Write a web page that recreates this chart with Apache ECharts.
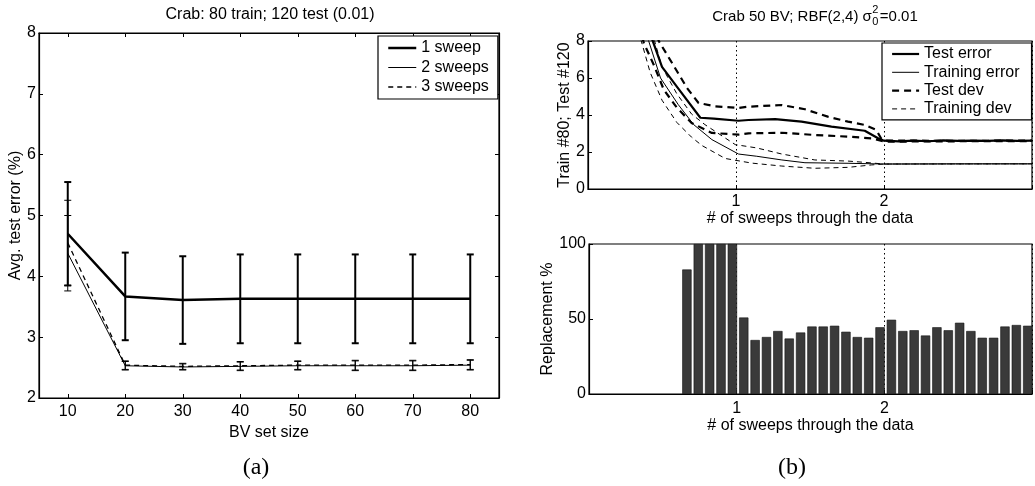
<!DOCTYPE html>
<html>
<head>
<meta charset="utf-8">
<script src="https://cdn.jsdelivr.net/npm/echarts@6/dist/echarts.min.js"></script>
<style>
html,body{margin:0;padding:0;background:#fff;}
#c{width:1035px;height:486px;}
</style>
</head>
<body>
<div id="c"></div>
<script>
// ---------- Panel (a) ----------
const bvSizes = [10, 20, 30, 40, 50, 60, 70, 80];
const sweep1Mean = [4.70, 3.67, 3.61, 3.63, 3.63, 3.63, 3.63, 3.63];
const sweep1Err  = [0.85, 0.72, 0.72, 0.73, 0.73, 0.73, 0.73, 0.73];
const sweep2Mean = [4.38, 2.53, 2.51, 2.52, 2.53, 2.53, 2.53, 2.54];
const sweep2Err  = [0.62, 0.07, 0.05, 0.07, 0.07, 0.08, 0.08, 0.08];
const sweep3Mean = [4.55, 2.54, 2.52, 2.53, 2.54, 2.54, 2.54, 2.55];
const sweep3Err  = [0.70, 0.07, 0.05, 0.07, 0.07, 0.08, 0.08, 0.08];
const legendA = ['1 sweep', '2 sweeps', '3 sweeps'];

// ---------- Panel (b) top ----------
const testErrX = [0.38,0.433,0.50,0.613,0.759,0.85,1.017,1.084,1.264,1.443,1.645,1.87,1.96,2.0,2.1,2.2,2.3,2.4,2.5,2.6,2.7,2.8,2.9,3.0];
const testErrY = [9.5,8.1,6.6,5.4,3.85,3.8,3.69,3.73,3.78,3.64,3.37,3.15,2.74,2.61,2.57,2.61,2.58,2.63,2.6,2.62,2.6,2.63,2.6,2.62];
const trainErrX = [0.36,0.41,0.49,0.61,0.714,0.837,1.017,1.14,1.31,1.466,1.757,2.0,2.5,3.0];
const trainErrY = [9.5,8.0,6.0,4.56,3.48,2.67,1.89,1.77,1.57,1.42,1.39,1.35,1.36,1.36];
const testDevUpX = [0.42,0.478,0.568,0.669,0.747,0.86,1.017,1.084,1.31,1.466,1.62,1.757,1.87,1.948,1.98,2.0,2.5,3.0];
const testDevUpY = [9.5,8.0,6.81,5.46,4.65,4.47,4.38,4.45,4.54,4.31,3.91,3.64,3.46,3.19,2.74,2.62,2.6,2.62];
const testDevLoX = [0.33,0.377,0.444,0.512,0.60,0.70,0.837,1.017,1.084,1.31,1.533,1.757,1.915,2.0,2.5,3.0];
const testDevLoY = [9.5,7.89,6.72,5.37,4.4,3.57,3.03,2.94,3.01,3.04,2.92,2.83,2.74,2.56,2.58,2.58];
const trainDevUpX = [0.40,0.45,0.5,0.6,0.7,0.79,0.995,1.14,1.31,1.533,1.757,1.87,2.0,3.0];
const trainDevUpY = [9.5,8.0,6.6,5.15,4.05,3.48,2.4,2.22,1.89,1.57,1.51,1.44,1.35,1.36];
const trainDevLoX = [0.31,0.36,0.42,0.5,0.6,0.7,0.77,0.927,1.106,1.31,1.533,1.757,1.915,2.0,3.0];
const trainDevLoY = [9.5,8.0,6.3,4.8,3.6,2.8,2.35,1.65,1.4,1.24,1.12,1.17,1.3,1.35,1.36];
const legendB = ['Test error', 'Training error', 'Test dev', 'Training dev'];

// ---------- Panel (b) bottom ----------
const barX = [0.663,0.740,0.817,0.894,0.971,1.048,1.125,1.202,1.279,1.356,1.433,1.510,1.586,1.663,1.740,1.817,1.894,1.971,2.048,2.125,2.202,2.279,2.356,2.433,2.510,2.586,2.663,2.740,2.817,2.894,2.971];
const barY = [83,100,100,100,100,51,36,38,42,37,41,45,45,45.5,41.5,38,37.5,44.5,49.5,42,42.5,39,44.5,42.5,47.5,42,37.5,37.5,45,46,45.5];

// ---------- helpers ----------
const FONT = 'Liberation Sans, Arial, Helvetica, sans-serif';
const zip = (xs, ys) => xs.map((x, i) => [x, ys[i]]);
const errData = (means, errs) => bvSizes.map((x, i) => [x, means[i] - errs[i], means[i] + errs[i]]);

// line styles (shared by series and legend entries)
const styleA = [
  {color: '#000', width: 2.5, type: 'solid'},
  {color: '#000', width: 1, type: 'solid'},
  {color: '#000', width: 1.3, type: [5, 4]}
];
const styleB = [
  {color: '#000', width: 2.2, type: 'solid'},
  {color: '#000', width: 1, type: 'solid'},
  {color: '#000', width: 2.2, type: [7, 5]},
  {color: '#000', width: 1, type: [5, 4]}
];

function errSeries(name, means, errs, width) {
  return {
    name: name, type: 'custom', xAxisIndex: 0, yAxisIndex: 0,
    data: errData(means, errs), encode: {x: 0, y: [1, 2]}, z: 3,
    renderItem: function (params, api) {
      const x = api.value(0);
      const lo = api.coord([x, api.value(1)]);
      const hi = api.coord([x, api.value(2)]);
      const w = 3.5;
      const st = {stroke: '#000', lineWidth: width};
      return {type: 'group', children: [
        {type: 'line', shape: {x1: lo[0], y1: lo[1], x2: hi[0], y2: hi[1]}, style: st},
        {type: 'line', shape: {x1: lo[0] - w, y1: lo[1], x2: lo[0] + w, y2: lo[1]}, style: st},
        {type: 'line', shape: {x1: hi[0] - w, y1: hi[1], x2: hi[0] + w, y2: hi[1]}, style: st}
      ]};
    }
  };
}

const axisLineStyle = {color: '#000', width: 1.2};
const labelStyle = {color: '#000', fontSize: 16, fontFamily: FONT};
const nameStyle = {color: '#000', fontSize: 16, fontFamily: FONT};
const sweepFmt = v => (v === 1 || v === 2) ? String(v) : '';
const hiddenSymbol = {color: 'rgba(0,0,0,0)', borderColor: 'rgba(0,0,0,0)', borderWidth: 0, opacity: 0};

const chart = echarts.init(document.getElementById('c'), null, {renderer: 'canvas'});

// title of (b) composed from pieces (σ with stacked sub/superscript)
const ctx = document.createElement('canvas').getContext('2d');
ctx.font = '15px ' + FONT;
const t1 = 'Crab 50 BV; RBF(2,4) σ', t2 = '=0.01';
const w1 = ctx.measureText(t1).width, w2 = ctx.measureText(t2).width;
const ws = 8;
const startB = 815 - (w1 + ws + w2) / 2;

const option = {
  animation: false,
  backgroundColor: '#fff',
  textStyle: {fontFamily: FONT},
  grid: [
    {left: 39, top: 33, width: 460, height: 365, show: true, borderColor: '#000', borderWidth: 1.2},
    {left: 588, top: 41, width: 445, height: 148, show: true, borderColor: '#000', borderWidth: 1.2},
    {left: 589, top: 244, width: 445, height: 150, show: true, borderColor: '#000', borderWidth: 1.2}
  ],
  xAxis: [
    {gridIndex: 0, type: 'value', min: 5, max: 85,
     axisLine: {lineStyle: axisLineStyle},
     axisTick: {inside: true, length: 4, customValues: bvSizes, lineStyle: {color: '#000'}},
     axisLabel: Object.assign({customValues: bvSizes, margin: 6}, labelStyle),
     splitLine: {show: false},
     name: 'BV set size', nameLocation: 'middle', nameGap: 20, nameTextStyle: nameStyle},
    {gridIndex: 0, type: 'value', min: 5, max: 85, position: 'top',
     axisLine: {lineStyle: axisLineStyle},
     axisTick: {inside: true, length: 4, customValues: bvSizes, lineStyle: {color: '#000'}},
     axisLabel: {show: false}, splitLine: {show: false}},
    {gridIndex: 1, type: 'value', min: 0, max: 3, interval: 1,
     axisLine: {lineStyle: axisLineStyle},
     axisTick: {inside: true, length: 4, lineStyle: {color: '#000'}},
     axisLabel: Object.assign({formatter: sweepFmt, margin: 5}, labelStyle),
     splitLine: {show: true, lineStyle: {color: '#000', type: [1.5, 3], width: 1}},
     name: '# of sweeps through the data', nameLocation: 'middle', nameGap: 20, nameTextStyle: nameStyle},
    {gridIndex: 2, type: 'value', min: 0, max: 3, interval: 1,
     axisLine: {lineStyle: axisLineStyle},
     axisTick: {inside: true, length: 4, lineStyle: {color: '#000'}},
     axisLabel: Object.assign({formatter: sweepFmt, margin: 7}, labelStyle),
     splitLine: {show: true, lineStyle: {color: '#000', type: [1.5, 3], width: 1}},
     name: '# of sweeps through the data', nameLocation: 'middle', nameGap: 23, nameTextStyle: nameStyle}
  ],
  yAxis: [
    {gridIndex: 0, type: 'value', min: 2, max: 8, interval: 1,
     axisLine: {lineStyle: axisLineStyle},
     axisTick: {inside: true, length: 4, lineStyle: {color: '#000'}},
     axisLabel: Object.assign({margin: 3}, labelStyle),
     splitLine: {show: false},
     name: 'Avg. test error (%)', nameLocation: 'middle', nameGap: 15, nameRotate: 90, nameTextStyle: nameStyle},
    {gridIndex: 0, type: 'value', min: 2, max: 8, interval: 1, position: 'right',
     axisLine: {lineStyle: axisLineStyle},
     axisTick: {inside: true, length: 4, lineStyle: {color: '#000'}},
     axisLabel: {show: false}, splitLine: {show: false}},
    {gridIndex: 1, type: 'value', min: 0, max: 8, interval: 2,
     axisLine: {lineStyle: axisLineStyle},
     axisTick: {inside: true, length: 4, lineStyle: {color: '#000'}},
     axisLabel: Object.assign({margin: 3}, labelStyle),
     splitLine: {show: false},
     name: 'Train #80; Test #120', nameLocation: 'middle', nameGap: 15, nameRotate: 90, nameTextStyle: nameStyle},
    {gridIndex: 2, type: 'value', min: 0, max: 100, interval: 50,
     axisLine: {lineStyle: axisLineStyle},
     axisTick: {inside: true, length: 4, lineStyle: {color: '#000'}},
     axisLabel: Object.assign({margin: 3}, labelStyle),
     splitLine: {show: false},
     name: 'Replacement %', nameLocation: 'middle', nameGap: 32, nameRotate: 90, nameTextStyle: nameStyle}
  ],
  legend: [
    {data: legendA.map((n, i) => ({name: n, lineStyle: styleA[i]})),
     orient: 'vertical', left: 378, top: 36, itemWidth: 28, itemHeight: 16, itemGap: 3.5,
     padding: [4, 9, 4, 9], borderColor: '#000', borderWidth: 1.2, backgroundColor: '#fff',
     itemStyle: hiddenSymbol,
     textStyle: {color: '#000', fontSize: 16, fontFamily: FONT, lineHeight: 16}, selectedMode: false},
    {data: legendB.map((n, i) => ({name: n, lineStyle: styleB[i]})),
     orient: 'vertical', left: 882, top: 43, itemWidth: 27, itemHeight: 16, itemGap: 2.3,
     padding: [3, 12, 3, 9], borderColor: '#000', borderWidth: 1.2, backgroundColor: '#fff',
     itemStyle: hiddenSymbol,
     textStyle: {color: '#000', fontSize: 16, fontFamily: FONT, lineHeight: 16}, selectedMode: false}
  ],
  graphic: [
    {type: 'text', x: 270, y: 14.5, style: {text: 'Crab: 80 train; 120 test (0.01)', font: '16px ' + FONT, fill: '#000', align: 'center', verticalAlign: 'middle'}},
    {type: 'text', x: startB, y: 16.5, style: {text: t1, font: '15px ' + FONT, fill: '#000', align: 'left', verticalAlign: 'middle'}},
    {type: 'text', x: startB + w1 + 0.5, y: 9.5, style: {text: '2', font: '11px ' + FONT, fill: '#000', align: 'left', verticalAlign: 'middle'}},
    {type: 'text', x: startB + w1 + 0.5, y: 21.5, style: {text: '0', font: '11px ' + FONT, fill: '#000', align: 'left', verticalAlign: 'middle'}},
    {type: 'text', x: startB + w1 + ws, y: 16.5, style: {text: t2, font: '15px ' + FONT, fill: '#000', align: 'left', verticalAlign: 'middle'}},
    {type: 'text', x: 256, y: 468, style: {text: '(a)', font: '24px Liberation Serif, DejaVu Serif, serif', fill: '#000', align: 'center', verticalAlign: 'middle'}},
    {type: 'text', x: 792, y: 468, style: {text: '(b)', font: '24px Liberation Serif, DejaVu Serif, serif', fill: '#000', align: 'center', verticalAlign: 'middle'}}
  ],
  series: [
    {name: '1 sweep', type: 'line', xAxisIndex: 0, yAxisIndex: 0, data: zip(bvSizes, sweep1Mean), symbol: 'none',
     lineStyle: styleA[0], itemStyle: {color: '#000'}, z: 4},
    {name: '2 sweeps', type: 'line', xAxisIndex: 0, yAxisIndex: 0, data: zip(bvSizes, sweep2Mean), symbol: 'none',
     lineStyle: styleA[1], itemStyle: {color: '#000'}, z: 4},
    {name: '3 sweeps', type: 'line', xAxisIndex: 0, yAxisIndex: 0, data: zip(bvSizes, sweep3Mean), symbol: 'none',
     lineStyle: styleA[2], itemStyle: {color: '#000'}, z: 4},
    errSeries('err1', sweep1Mean, sweep1Err, 2),
    errSeries('err2', sweep2Mean, sweep2Err, 1),
    errSeries('err3', sweep3Mean, sweep3Err, 1),

    {name: 'Test error', type: 'line', xAxisIndex: 2, yAxisIndex: 2, data: zip(testErrX, testErrY), symbol: 'none', clip: true,
     lineStyle: styleB[0], itemStyle: {color: '#000'}},
    {name: 'Training error', type: 'line', xAxisIndex: 2, yAxisIndex: 2, data: zip(trainErrX, trainErrY), symbol: 'none', clip: true,
     lineStyle: styleB[1], itemStyle: {color: '#000'}},
    {name: 'Test dev', type: 'line', xAxisIndex: 2, yAxisIndex: 2, data: zip(testDevUpX, testDevUpY), symbol: 'none', clip: true,
     lineStyle: styleB[2], itemStyle: {color: '#000'}},
    {name: 'Test dev', type: 'line', xAxisIndex: 2, yAxisIndex: 2, data: zip(testDevLoX, testDevLoY), symbol: 'none', clip: true,
     lineStyle: styleB[2], itemStyle: {color: '#000'}},
    {name: 'Training dev', type: 'line', xAxisIndex: 2, yAxisIndex: 2, data: zip(trainDevUpX, trainDevUpY), symbol: 'none', clip: true,
     lineStyle: styleB[3], itemStyle: {color: '#000'}},
    {name: 'Training dev', type: 'line', xAxisIndex: 2, yAxisIndex: 2, data: zip(trainDevLoX, trainDevLoY), symbol: 'none', clip: true,
     lineStyle: styleB[3], itemStyle: {color: '#000'}},

    {name: 'Replacement', type: 'bar', xAxisIndex: 3, yAxisIndex: 3, data: zip(barX, barY), barWidth: 9.3,
     itemStyle: {color: '#3a3a3a', borderColor: '#111', borderWidth: 0.6}}
  ]
};
chart.setOption(option);
</script>
</body>
</html>
